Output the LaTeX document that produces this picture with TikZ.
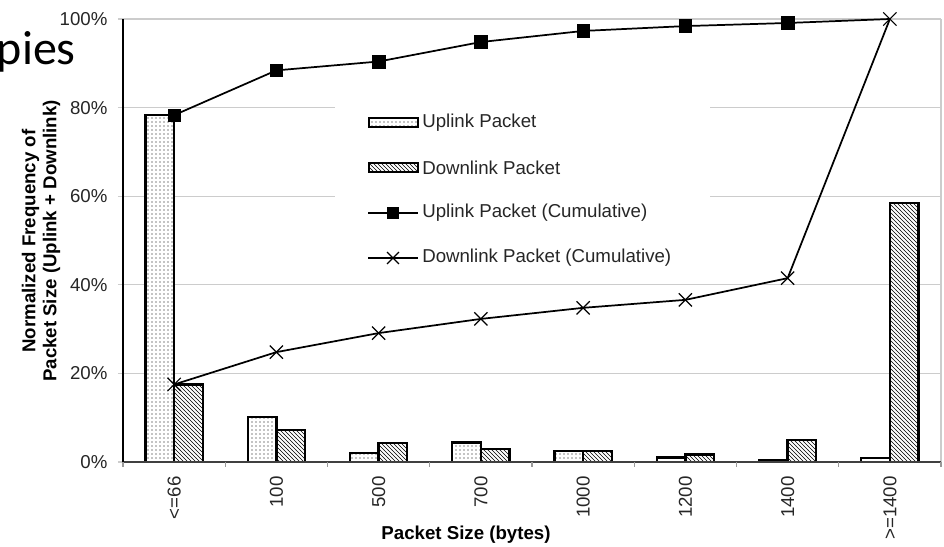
\documentclass[tikz,border=0pt]{standalone}
\usepackage{fontspec}
\setmainfont{Liberation Sans}
\newfontfamily\slidefont{Carlito}
\usetikzlibrary{patterns, shapes.misc}

\begin{document}
\begin{tikzpicture}[x=0.75pt, y=0.75pt,
        every node/.style={font=\fontsize{14}{16}\selectfont, text=black!85},
        grid/.style={black!20, line width=0.9pt},
        upbar/.style={draw, line width=1.8pt, preaction={fill=white}, pattern=dots, pattern color=black},
        downbar/.style={draw, line width=1.8pt, preaction={fill=white}, pattern=north west lines, pattern color=black},
        cum/.style={line width=1.3pt},
        sqmark/.style={draw, fill=black, inner sep=0pt, minimum size=9.5pt},
        xmark/.style={cross out, draw, inner sep=0pt, minimum size=9pt, line width=0.9pt},
        ttl/.style={font=\bfseries\fontsize{14}{15.8}\selectfont, text=black}]
        \useasboundingbox (0,0) rectangle (944,546);

        \node[font=\slidefont\fontsize{36}{40}\selectfont, text=black, anchor=base east, inner sep=0pt] (slide) at (76,481) {pies};

        \begin{scope}[shift={(123,84)}, x=76.6875pt, y=3.3225pt]
        % grid and y axis
        \foreach \p in {0,20,...,100} {
            \draw[grid] (0,\p) -- (8,\p);
            \draw[grid] (-0.05,\p) -- (0,\p);
            \node[anchor=east, inner sep=0pt] at (-0.15,\p) {\p\%};
        }
        \draw[grid] (8,0) -- (8,100);

        % bars
        \foreach \i/\u/\d in {1/78.3/17.5, 2/10.1/7.2, 3/2.0/4.3, 4/4.4/3.0,
                              5/2.5/2.5, 6/1.0/1.7, 7/0.3/5.0, 8/0.9/58.4} {
            \draw[upbar] (\i-0.78,0) rectangle (\i-0.5,\u);
            \draw[downbar] (\i-0.5,0) rectangle (\i-0.22,\d);
        }

        \draw[black!75, line width=0.9pt] (0,0) -- (8,0);
        \foreach \i in {0,...,8}
            \draw[black!40, line width=0.9pt] (\i,0) -- (\i,-1.2);
        \draw[black, line width=1pt] (0,0) -- (0,100);

        \foreach \i/\t in {1/{<=66}, 2/100, 3/500, 4/700, 5/1000, 6/1200, 7/1400, 8/{>=1400}}
            \node[rotate=90, anchor=east, inner sep=0pt] (lab\i) at (\i-0.5,-3.2) {\t};

        % cumulative curves
        \foreach \i/\v in {1/78.3, 2/88.4, 3/90.4, 4/94.8, 5/97.3, 6/98.4, 7/99.1}
            \node[sqmark] (u\i) at (\i-0.5,\v) {};
        \coordinate (u8) at (7.5,100);
        \draw[cum] (u1.center) -- (u2.center) -- (u3.center) -- (u4.center)
            -- (u5.center) -- (u6.center) -- (u7.center) -- (u8);

        \foreach \i/\v in {1/17.5, 2/24.8, 3/29.1, 4/32.3, 5/34.8, 6/36.6, 7/41.5, 8/100}
            \node[xmark] (d\i) at (\i-0.5,\v) {};
        \draw[cum] (d1.center) -- (d2.center) -- (d3.center) -- (d4.center)
            -- (d5.center) -- (d6.center) -- (d7.center) -- (d8.center);
        \end{scope}

        % axis titles
        \node[ttl, rotate=90, align=center] (ytitle) at (41,305)
            {Normalized Frequency of\\Packet Size (Uplink + Downlink)};
        \node[ttl] (xtitle) at (466,11) {Packet Size (bytes)};

        % legend
        \fill[white] (335,268) rectangle (710,454);
        \draw[upbar, line width=1.5pt] (369,419) rectangle (418,428);
        \node[anchor=west, inner sep=0pt] (lup) at (422,423) {Uplink Packet};
        \draw[downbar, line width=1.5pt] (369,374) rectangle (418,383);
        \node[anchor=west, inner sep=0pt] (ldown) at (422,378) {Downlink Packet};
        \coordinate (la) at (368,333);
        \coordinate (lc) at (418,333);
        \node[sqmark, minimum size=8pt] (lsq) at (393,333) {};
        \node[anchor=west, inner sep=0pt] (lupc) at (422,333) {Uplink Packet (Cumulative)};
        \draw[cum] (la) -- (lc);
        \coordinate (lb) at (368,288);
        \coordinate (ld) at (418,288);
        \node[xmark, minimum size=8pt] (lx) at (393,288) {};
        \node[anchor=west, inner sep=0pt] (ldownc) at (422,288) {Downlink Packet (Cumulative)};
        \draw[cum] (lb) -- (ld);
\end{tikzpicture}
\end{document}
